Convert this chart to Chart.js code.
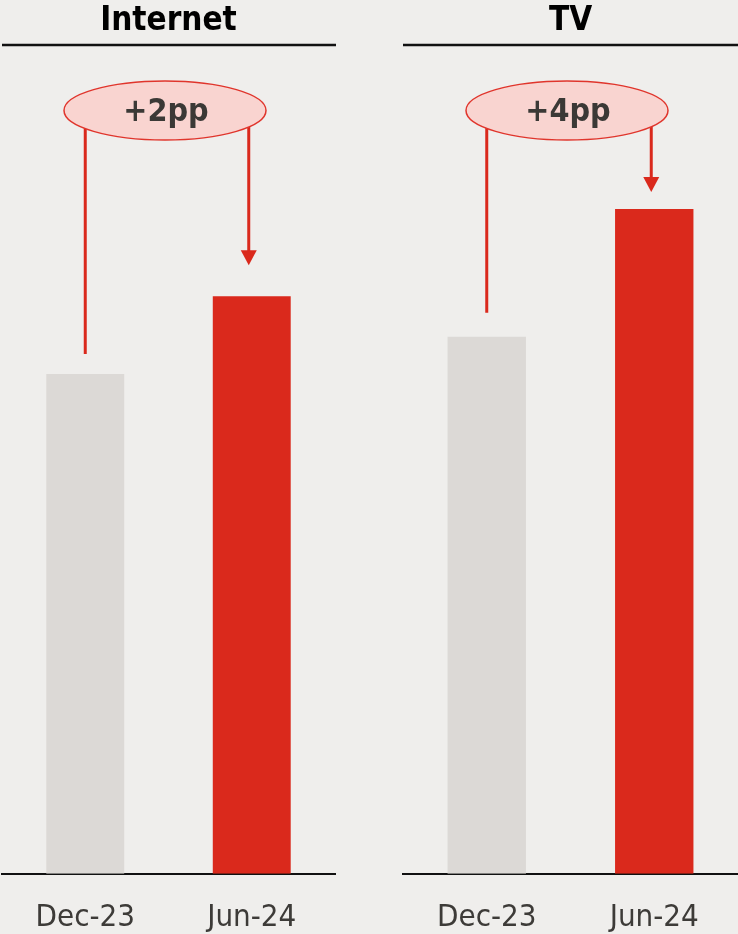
<!DOCTYPE html>
<html>
<head>
<meta charset="utf-8">
<script src="https://cdn.jsdelivr.net/npm/chart.js@4/dist/chart.umd.min.js"></script>
<style>
  html, body { margin: 0; padding: 0; background: #efeeec; }
  #wrap { position: relative; width: 738px; height: 934px; overflow: hidden; }
  canvas { position: absolute; top: 0; }
  #internetChart { left: 0; }
  #tvChart { left: 400px; }
</style>
</head>
<body>
<div id="wrap">
  <canvas id="internetChart" width="338" height="963"></canvas>
  <canvas id="tvChart" width="338" height="963"></canvas>
</div>
<script>
// Données (indice de hauteur des barres, pas d'axe affiché)
const categories = ['Dec-23', 'Jun-24'];
const internetValues = [60.3, 69.7];
const tvValues = [64.8, 80.2];
const panelTitles = ['Internet', 'TV'];
const changeLabels = ['+2pp', '+4pp'];

const FONT = '"DejaVu Sans Condensed", "DejaVu Sans", sans-serif';
const RED = '#da291c';
const GREY = '#dcd9d6';

// Titre, ligne de titre, ellipse et flèches
const panelDecor = {
    id: 'panelDecor',
    afterDraw(chart, args, opts) {
        const ctx = chart.ctx;
        const area = chart.chartArea;
        const meta = chart.getDatasetMeta(0);
        const b0 = meta.data[0];
        const b1 = meta.data[1];

        ctx.save();
        // titre
        ctx.fillStyle = '#000';
        ctx.font = 'bold 33px ' + FONT;
        ctx.textAlign = 'center';
        ctx.textBaseline = 'middle';
        ctx.fillText(opts.title, (area.left + area.right) / 2, 21);
        // ligne sous le titre
        ctx.strokeStyle = '#111';
        ctx.lineWidth = 2.5;
        ctx.beginPath();
        ctx.moveTo(area.left, area.top);
        ctx.lineTo(area.right + 1, area.top);
        ctx.stroke();

        const xl = b0.x;
        const xr = b1.x - 3;
        const cx = (xl + xr) / 2 - 2;
        const cy = 110.5;

        // connecteurs
        ctx.strokeStyle = RED;
        ctx.fillStyle = RED;
        ctx.lineWidth = 3;
        ctx.beginPath();
        ctx.moveTo(xl, cy);
        ctx.lineTo(xl, b0.y - opts.lineGap);
        ctx.moveTo(xr, cy);
        ctx.lineTo(xr, b1.y - opts.arrowGap - 14);
        ctx.stroke();
        // pointe de flèche
        const tip = b1.y - opts.arrowGap;
        ctx.beginPath();
        ctx.moveTo(xr - 8, tip - 15);
        ctx.lineTo(xr + 8, tip - 15);
        ctx.lineTo(xr, tip);
        ctx.closePath();
        ctx.fill();

        // ellipse
        ctx.beginPath();
        ctx.ellipse(cx, cy, 101, 29.5, 0, 0, Math.PI * 2);
        ctx.fillStyle = '#f9d4d0';
        ctx.fill();
        ctx.lineWidth = 1.5;
        ctx.strokeStyle = '#e0352c';
        ctx.stroke();

        ctx.fillStyle = '#3b3936';
        ctx.font = 'bold 32px ' + FONT;
        ctx.fillText(opts.change, cx + 1, cy + 2);
        ctx.restore();
    }
};

function makePanel(canvasId, values, idx, pad, gaps) {
    return new Chart(document.getElementById(canvasId), {
        type: 'bar',
        data: {
            labels: categories,
            datasets: [{
                data: values,
                backgroundColor: [GREY, RED],
                borderWidth: 0,
                barPercentage: 0.468,
                categoryPercentage: 1
            }]
        },
        options: {
            responsive: false,
            animation: false,
            layout: {
                padding: { top: 45, bottom: 0, left: pad[0], right: pad[1] }
            },
            scales: {
                y: { display: false, min: 0, max: 100 },
                x: {
                    grid: { display: false, drawTicks: false },
                    border: { display: true, color: '#111', width: 2 },
                    ticks: {
                        padding: 26,
                        color: '#3d3b38',
                        font: { family: FONT, size: 31 }
                    }
                }
            },
            plugins: {
                legend: { display: false },
                tooltip: { enabled: false },
                panelDecor: {
                    title: panelTitles[idx],
                    change: changeLabels[idx],
                    lineGap: gaps[0],
                    arrowGap: gaps[1]
                }
            }
        },
        plugins: [panelDecor]
    });
}

makePanel('internetChart', internetValues, 0, [2, 3], [20, 31]);
makePanel('tvChart', tvValues, 1, [3, 0], [24, 17]);
</script>
</body>
</html>
